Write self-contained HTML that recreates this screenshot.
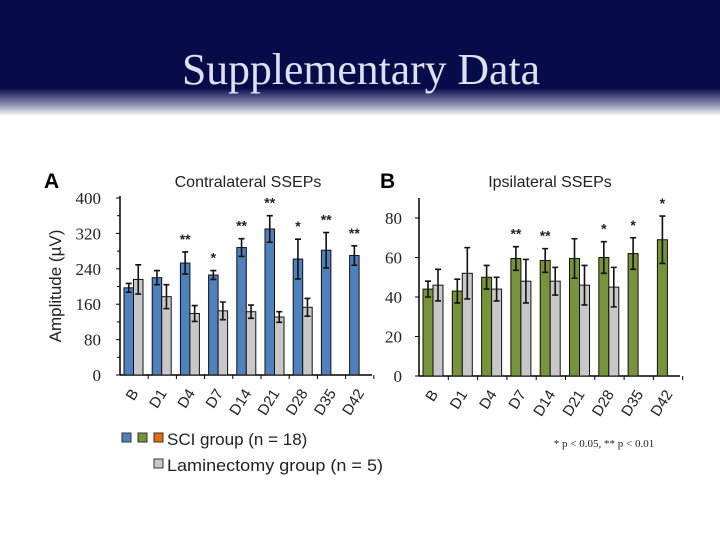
<!DOCTYPE html>
<html><head><meta charset="utf-8"><style>
body{margin:0;background:#fff}
svg{display:block}
</style></head><body>
<svg width="720" height="540" viewBox="0 0 720 540">
<defs><linearGradient id="hg" x1="0" y1="0" x2="0" y2="1">
<stop offset="0" stop-color="#070b4a"/><stop offset="0.76" stop-color="#070b4a"/><stop offset="0.9" stop-color="#8c8eb0"/><stop offset="1" stop-color="#ffffff"/></linearGradient></defs>
<rect x="0" y="0" width="720" height="116" fill="url(#hg)"/>
<text x="182" y="84" textLength="358" lengthAdjust="spacingAndGlyphs" font-family="Liberation Serif, serif" font-size="44" fill="#dde0f0">Supplementary Data</text>
<g id="chartA"></g>
<g id="chartB"></g>
<g font-family="Liberation Sans, sans-serif" font-size="17" fill="#222">
<rect x="122" y="433" width="9" height="9" fill="#4f81bd" stroke="#333" stroke-width="1"/>
<rect x="138" y="433" width="9" height="9" fill="#77933c" stroke="#333" stroke-width="1"/>
<rect x="154" y="433" width="9" height="9" fill="#e46c0a" stroke="#333" stroke-width="1"/>
<text x="167" y="445">SCI group  (n = 18)</text>
<rect x="154" y="459" width="9" height="9" fill="#c8c8c8" stroke="#333" stroke-width="1"/>
<text x="167" y="471" textLength="216" lengthAdjust="spacingAndGlyphs">Laminectomy group (n = 5)</text>
</g>
<text x="604" y="447" text-anchor="middle" font-family="Liberation Serif, serif" font-size="11" fill="#222">* p &lt; 0.05, ** p &lt; 0.01</text>
</svg>
<script>
const cats=["B","D1","D4","D7","D14","D21","D28","D35","D42"];
const aSci=[197,220,253,226,288,330,262,282,270];
const aSciErr=[10,16,25,10,20,30,45,40,22];
const aLam=[216,177,139,145,143,131,153,null,null];
const aLamErr=[33,27,18,20,15,12,20,null,null];
const aStars=["","","**","*","**","**","*","**","**"];
const aTicks=[0,80,160,240,320,400];
const bSci=[44,43,50,59.5,58.5,59.5,60,62,69];
const bSciErr=[4,6,6,6,6,10,8,8,12];
const bLam=[46,52,44,48,48,46,45,null,null];
const bLamErr=[8,13,6,11,7,10,10,null,null];
const bStars=["","","","**","**","","*","*","*"];
const bTicks=[0,20,40,60,80];
const NS="http://www.w3.org/2000/svg";
function mk(p,t,a){const e=document.createElementNS(NS,t);for(const k in a)e.setAttribute(k,a[k]);p.appendChild(e);return e;}
function draw(g,o){
  const y=v=>o.y0-(v/o.vmax)*(o.y0-o.ytop);
  const gx=i=>o.x0+o.gw*i;
  let ax=mk(g,'line',{x1:o.x0,y1:o.axTop,x2:o.x0,y2:o.y0,stroke:'#000','stroke-width':1.5});
  
  ax=mk(g,'line',{x1:o.x0,y1:o.y0,x2:o.xEnd,y2:o.y0,stroke:'#000','stroke-width':1.5});
  
  o.ticks.forEach((t,i)=>{
    const tk=mk(g,'line',{x1:o.x0-4,y1:y(t),x2:o.x0,y2:y(t),stroke:'#000'});
    
    if(o.minor&&i<o.ticks.length-1){const m=mk(g,'line',{x1:o.x0-3,y1:y(t+o.minor),x2:o.x0,y2:y(t+o.minor),stroke:'#000'});
      }
    const tl=mk(g,'text',{x:o.tickX,y:y(t)+6,'text-anchor':'end','font-family':'Liberation Serif, serif','font-size':17,fill:'#222'});
    tl.textContent=t;
  });
  cats.forEach((c,i)=>{
    const xt=mk(g,'line',{x1:gx(i+1),y1:o.y0,x2:gx(i+1),y2:o.y0+4,stroke:'#000'});
    
    const bx=gx(i)+o.off;
    function bar(v,e,col,x,nm){
      if(v==null)return;
      const r=mk(g,'rect',{x:x,y:y(v),width:o.bw,height:o.y0-y(v),fill:col,stroke:'#111','stroke-width':1});
      
      const cx=x+o.bw/2;
      const eb=mk(g,'path',{d:`M${cx},${y(v+e)}V${y(v-e)}M${cx-3},${y(v+e)}H${cx+3}M${cx-3},${y(v-e)}H${cx+3}`,stroke:'#111','stroke-width':1.6,fill:'none'});
      
    }
    bar(o.sci[i],o.sciErr[i],o.col,bx,'bar-sci');
    bar(o.lam[i],o.lamErr[i],'#c8c8c8',bx+o.bw,'bar-laminectomy');
    if(o.stars[i]){const s=mk(g,'text',{x:bx+o.bw/2,y:y(o.sci[i]+o.sciErr[i])-8,'text-anchor':'middle','font-family':'Liberation Sans, sans-serif','font-size':14,'font-weight':'bold',fill:'#222'});
      s.textContent=o.stars[i];}
    const lx=gx(i)+o.gw/2+5;
    const l=mk(g,'text',{x:lx,y:o.y0+18,'text-anchor':'end','font-family':'Liberation Sans, sans-serif','font-size':15,fill:'#222',transform:`rotate(-58 ${lx} ${o.y0+18})`});
    l.textContent=c;
  });
}
const gA=document.getElementById('chartA'),gB=document.getElementById('chartB');
draw(gA,{x0:120,xEnd:372,y0:375,ytop:198,vmax:400,axTop:196,gw:28.2,off:4,bw:9.5,ticks:aTicks,minor:40,tickX:101,sci:aSci,sciErr:aSciErr,lam:aLam,lamErr:aLamErr,stars:aStars,col:'#4f81bd'});
draw(gB,{x0:419,xEnd:680,y0:376,ytop:218,vmax:80,axTop:198,gw:29.3,off:4,bw:10,ticks:bTicks,minor:0,tickX:402,sci:bSci,sciErr:bSciErr,lam:bLam,lamErr:bLamErr,stars:bStars,col:'#77933c'});
function txt(g,a,s,n){const t=mk(g,'text',a);t.textContent=s;}
txt(gA,{x:44,y:188,'font-family':'Liberation Sans, sans-serif','font-size':21,'font-weight':'bold',fill:'#000'},'A','panel-label-a');
txt(gA,{x:248,y:187,'text-anchor':'middle','font-family':'Liberation Sans, sans-serif','font-size':16,fill:'#222'},'Contralateral SSEPs','chart-a-title');
txt(gA,{x:61,y:286,'text-anchor':'middle','font-family':'Liberation Sans, sans-serif','font-size':17,fill:'#222',transform:'rotate(-90 61 286)'},'Amplitude (µV)','y-axis-title');
txt(gB,{x:380,y:188,'font-family':'Liberation Sans, sans-serif','font-size':21,'font-weight':'bold',fill:'#000'},'B','panel-label-b');
txt(gB,{x:550,y:187,'text-anchor':'middle','font-family':'Liberation Sans, sans-serif','font-size':16,fill:'#222'},'Ipsilateral SSEPs','chart-b-title');
</script>
</body></html>
